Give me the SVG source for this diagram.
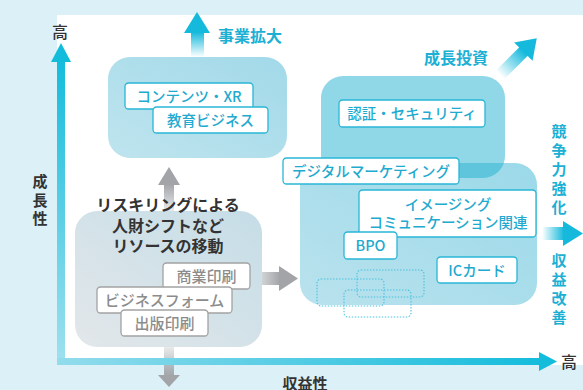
<svg xmlns="http://www.w3.org/2000/svg" width="583" height="390" viewBox="0 0 583 390">
<style>
text{font-family:"Noto Sans CJK JP","Noto Sans",sans-serif;}
.cy{fill:#1cb0d4;font-weight:bold;}
.dk{fill:#333333;font-weight:bold;}
.ax{fill:#333333;font-size:16px;font-weight:500;}
.bl{fill:#ffffff;stroke:#2ab6d6;stroke-width:1.3;}
.gb{fill:#ffffff;stroke:#a2a2a2;stroke-width:1.3;}
.bt{fill:#1faad0;font-size:14.5px;font-weight:500;text-anchor:middle;}
.gt{fill:#8c8c8c;font-size:15px;font-weight:500;text-anchor:middle;}
.dot{fill:none;stroke:#4cc2de;stroke-width:1.1;stroke-dasharray:1.5 1.5;}
</style>
<defs>
<linearGradient id="gV" x1="0" y1="0" x2="0" y2="1"><stop offset="0" stop-color="#14bcdc"/><stop offset="1" stop-color="#9fe1ee"/></linearGradient>
<linearGradient id="gH" x1="0" y1="0" x2="1" y2="0"><stop offset="0" stop-color="#92dcec"/><stop offset="1" stop-color="#14bcdc"/></linearGradient>
<linearGradient id="gUp" x1="0" y1="1" x2="0" y2="0"><stop offset="0" stop-color="#14b9dc" stop-opacity="0"/><stop offset="1" stop-color="#14b9dc"/></linearGradient>
<linearGradient id="gR" x1="0" y1="0" x2="1" y2="0"><stop offset="0" stop-color="#14b9dc" stop-opacity="0"/><stop offset="1" stop-color="#14b9dc"/></linearGradient>
<linearGradient id="gGrU" x1="0" y1="0" x2="0" y2="1"><stop offset="0" stop-color="#a2a4a8"/><stop offset="1" stop-color="#a2a4a8" stop-opacity="0.2"/></linearGradient>
<linearGradient id="gGrD" x1="0" y1="0" x2="0" y2="1"><stop offset="0" stop-color="#a2a4a8" stop-opacity="0.2"/><stop offset="1" stop-color="#a2a4a8"/></linearGradient>
<linearGradient id="gGrR" x1="0" y1="0" x2="1" y2="0"><stop offset="0" stop-color="#a2a4a8" stop-opacity="0.15"/><stop offset="1" stop-color="#a2a4a8"/></linearGradient>
<linearGradient id="gNode1" x1="0" y1="1" x2="1" y2="0"><stop offset="0" stop-color="#bee4ee"/><stop offset="1" stop-color="#a2d9e9"/></linearGradient>
<linearGradient id="gNode2" x1="0" y1="1" x2="1" y2="0"><stop offset="0" stop-color="#b9e2ed"/><stop offset="1" stop-color="#9bd9e9"/></linearGradient>
<linearGradient id="gGray" x1="0" y1="1" x2="1" y2="0"><stop offset="0" stop-color="#e2e7ea"/><stop offset="1" stop-color="#c5dde7"/></linearGradient>
</defs>
<rect x="0" y="0" width="583" height="390" fill="#dcf0f7"/>
<rect x="57" y="15" width="526" height="350" fill="#ffffff"/>

<g id="connectors">
  <rect x="191" y="32" width="13" height="25" fill="url(#gUp)"/>
  <polygon points="184,33 197,12 210,33" fill="#14b9dc"/>
  <g transform="translate(500,75) rotate(-45)">
    <rect x="0" y="-6" width="34" height="12" fill="url(#gR)"/>
    <polygon points="33,-13 52,0 33,13" fill="#14b9dc"/>
  </g>
  <rect x="542" y="227" width="22" height="13" fill="url(#gR)"/>
  <polygon points="563,221 583,233.5 563,246" fill="#14b9dc"/>
  <rect x="164" y="184" width="10" height="28" fill="url(#gGrU)"/>
  <polygon points="158,185 169,167 180,185" fill="#a2a4a8"/>
  <rect x="164" y="346" width="10" height="30" fill="url(#gGrD)"/>
  <polygon points="158,375 169,387 180,375" fill="#a2a4a8"/>
  <rect x="250" y="272" width="30" height="13" fill="url(#gGrR)"/>
  <polygon points="279,266 298,278.5 279,291" fill="#a2a4a8"/>
</g>

<g id="axes">
  <rect x="57" y="60" width="8" height="305" fill="url(#gV)"/>
  <polygon points="51,62 61,43 71,62" fill="#14bcdc"/>
  <rect x="57" y="358" width="485" height="7" fill="url(#gH)"/>
  <polygon points="539,352 557,361.5 539,371" fill="#14bcdc"/>
  <text class="ax" x="60" y="38" text-anchor="middle">高</text>
  <text class="ax" x="569" y="368" text-anchor="middle">高</text>
  <text class="dk" font-size="15" text-anchor="middle"><tspan x="40" y="187">成</tspan><tspan x="40" y="205.5">長</tspan><tspan x="40" y="224">性</tspan></text>
  <text class="dk" x="305" y="388.5" font-size="15" text-anchor="middle">収益性</text>
</g>

<g id="label-expand">
  <text class="cy" x="218" y="42" font-size="16">事業拡大</text>
</g>
<g id="label-invest">
  <text class="cy" x="424" y="64" font-size="16">成長投資</text>
</g>
<g id="label-right">
  <text class="cy" font-size="15" text-anchor="middle"><tspan x="559" y="137">競</tspan><tspan x="559" y="156">争</tspan><tspan x="559" y="175">力</tspan><tspan x="559" y="194">強</tspan><tspan x="559" y="213">化</tspan></text>
  <text class="cy" font-size="15" text-anchor="middle"><tspan x="559" y="266">収</tspan><tspan x="559" y="285">益</tspan><tspan x="559" y="304">改</tspan><tspan x="559" y="323">善</tspan></text>
</g>

<g id="node-expand">
  <rect x="108" y="57" width="179" height="101" rx="22" fill="url(#gNode1)"/>
  <rect class="bl" x="125" y="83" width="128" height="26" rx="3.5"/>
  <text class="bt" x="189" y="101.5">コンテンツ・XR</text>
  <rect class="bl" x="153" y="107" width="115" height="26" rx="3.5"/>
  <text class="bt" x="210.5" y="125.5" font-size="15">教育ビジネス</text>
</g>

<g id="node-growth">
  <rect x="300" y="163" width="237" height="142" rx="22" fill="url(#gNode2)"/>
  <rect x="321" y="76" width="184" height="102" rx="22" fill="#18aecf" fill-opacity="0.48"/>
  <rect class="bl" x="339" y="100" width="146" height="27" rx="3.5"/>
  <text class="bt" x="412" y="118.5">認証・セキュリティ</text>
  <rect class="bl" x="283" y="158" width="176" height="26" rx="3.5"/>
  <text class="bt" x="371" y="176.5">デジタルマーケティング</text>
  <rect class="bl" x="359" y="190" width="177" height="47" rx="3.5"/>
  <text class="bt" x="448" y="209.5" font-size="14.2">イメージング</text>
  <text class="bt" x="448" y="227.5" font-size="14.2">コミュニケーション関連</text>
  <rect class="bl" x="344" y="232" width="53" height="27" rx="3.5"/>
  <text class="bt" x="370.5" y="251" font-weight="bold" font-size="15">BPO</text>
  <rect class="bl" x="437" y="257" width="80" height="26" rx="3.5"/>
  <text class="bt" x="477" y="275.5">ICカード</text>
  <rect class="dot" x="317" y="279" width="67" height="27" rx="4"/>
  <rect class="dot" x="357" y="270" width="67" height="27" rx="4"/>
  <rect class="dot" x="344" y="290" width="67" height="27" rx="4"/>
</g>

<g id="node-reskilling">
  <rect x="75" y="211" width="187" height="136" rx="22" fill="url(#gGray)"/>
  <text class="dk" font-size="16" text-anchor="middle"><tspan x="168" y="211">リスキリングによる</tspan><tspan x="168" y="231.5">人財シフトなど</tspan><tspan x="168" y="252">リソースの移動</tspan></text>
  <rect class="gb" x="163" y="263" width="87" height="26" rx="3.5"/>
  <text class="gt" x="206.5" y="281.5">商業印刷</text>
  <rect class="gb" x="97" y="287" width="135" height="26" rx="3.5"/>
  <text class="gt" x="164.5" y="305.5" font-size="14.5">ビジネスフォーム</text>
  <rect class="gb" x="121" y="310" width="87" height="26" rx="3.5"/>
  <text class="gt" x="164.5" y="328.5">出版印刷</text>
</g>
</svg>
